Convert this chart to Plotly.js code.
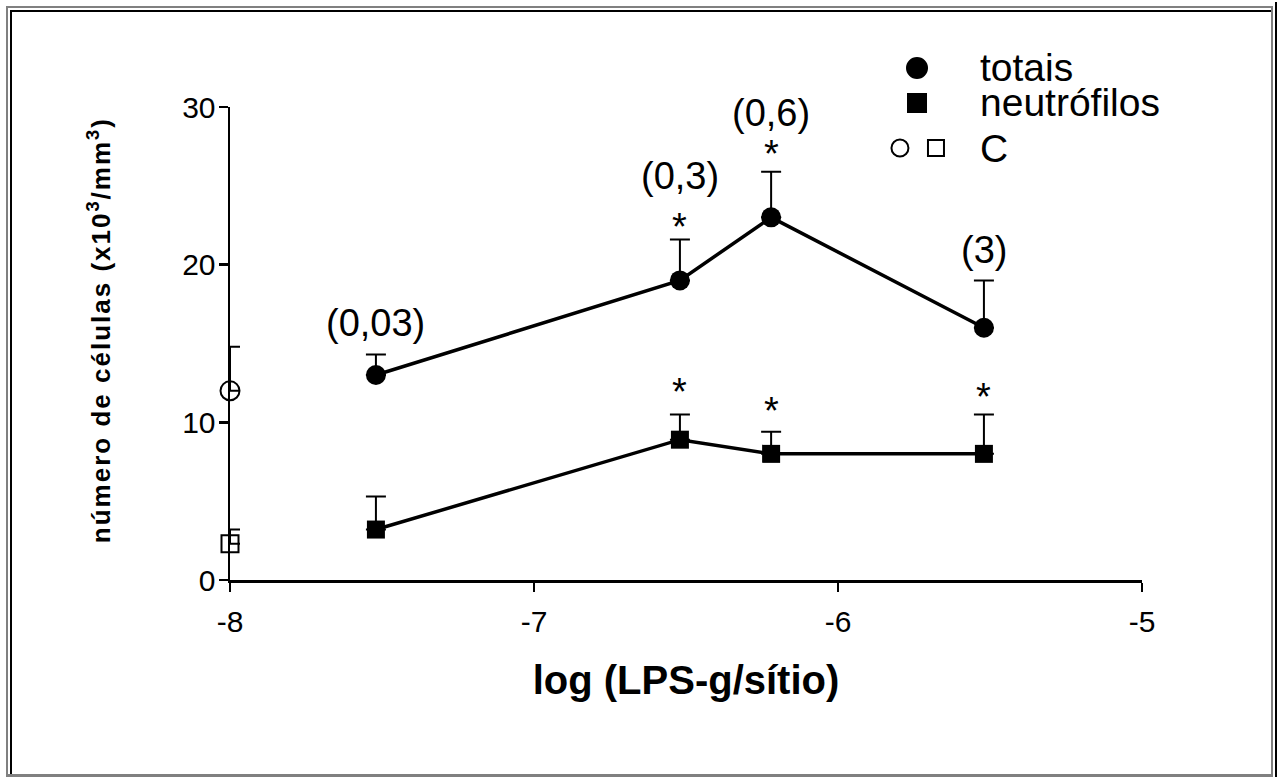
<!DOCTYPE html>
<html><head><meta charset="utf-8">
<script src="https://cdn.plot.ly/plotly-3.0.1.min.js"></script>
<style>
html,body{margin:0;padding:0;background:#fff;}
#wrap{position:relative;width:1278px;height:777px;overflow:hidden;}
#chart{position:absolute;left:0;top:0;width:1278px;height:777px;}
.fr{position:absolute;pointer-events:none;}
</style></head>
<body>
<div id="wrap">
<div id="chart"></div>
<div class="fr" style="left:6px;top:6px;width:1267px;height:2px;background:#808080"></div>
<div class="fr" style="left:6px;top:6px;width:2px;height:771px;background:#808080"></div>
<div class="fr" style="left:10px;top:10px;width:1261px;height:2px;background:#000"></div>
<div class="fr" style="left:10px;top:10px;width:2px;height:767px;background:#000"></div>
<div class="fr" style="left:1271px;top:6px;width:2px;height:771px;background:#808080"></div>
<div class="fr" style="left:1275px;top:2px;width:2px;height:775px;background:#000"></div>
<div class="fr" style="left:6px;top:774px;width:1267px;height:3px;background:#808080"></div>
</div>
<script>
// ---- data ----
const logDose = [-7.52, -6.52, -6.22, -5.52];
const doseLabels = ["(0,03)", "(0,3)", "(0,6)", "(3)"];
const totais = [13.0, 19.0, 23.0, 16.0];
const totaisErr = [1.3, 2.6, 2.9, 3.0];
const neutrofilos = [3.2, 8.9, 8.0, 8.0];
const neutrofilosErr = [2.1, 1.6, 1.4, 2.5];
const controlX = [-8];
const controlTotais = [12.0];
const controlTotaisErr = [2.8];
const controlNeutro = [2.3];
const controlNeutroErr = [0.9];
const sigTotais = ["", "*", "*", ""];
const sigNeutro = ["", "*", "*", "*"];
const xTicks = [-8, -7, -6, -5];
const yTicks = [0, 10, 20, 30];
const legendNames = ["totais", "neutrófilos", "C"];
const xTitle = "log (LPS-g/sítio)";
const yTitle = "número de células (x10<sup>3</sup>/mm<sup>3</sup>)";

// ---- layout constants (positions / styles) ----
const labelY = [16.3, 25.6, 29.6, 20.9];
const sigTotaisY = [0, 22.4, 27.0, 0];
const sigNeutroY = [0, 11.9, 10.7, 11.6];
const FONT = "Liberation Sans, Arial, sans-serif";
const legendTextX = 0.82;
const legendRowY = [1.0825, 1.0085, 0.9133];
const legendSymbols = [
  {type: "circle", x: 0.7533, y: 1.0825, r: 10, fill: "#000"},
  {type: "rect", x: 0.7533, y: 1.0085, r: 9, fill: "#000"},
  {type: "circle", x: 0.7346, y: 0.9133, r: 8.5, fill: "rgba(0,0,0,0)"},
  {type: "rect", x: 0.7741, y: 0.9133, r: 8, fill: "rgba(0,0,0,0)"}
];

const errStyle = {type: "data", symmetric: false, color: "#000", thickness: 2, width: 10};

const traces = [
  {x: logDose, y: totais, mode: "lines+markers", cliponaxis: false,
   line: {color: "#000", width: 3.5},
   marker: {symbol: "circle", size: 20, color: "#000"},
   error_y: Object.assign({array: totaisErr, arrayminus: totais.map(() => 0)}, errStyle)},
  {x: logDose, y: neutrofilos, mode: "lines+markers", cliponaxis: false,
   line: {color: "#000", width: 3.5},
   marker: {symbol: "square", size: 18, color: "#000"},
   error_y: Object.assign({array: neutrofilosErr, arrayminus: neutrofilos.map(() => 0)}, errStyle)},
  {x: controlX, y: controlTotais, mode: "markers", cliponaxis: false,
   marker: {symbol: "circle-open", size: 19, color: "#000", line: {width: 2}},
   error_y: Object.assign({array: controlTotaisErr, arrayminus: [0]}, errStyle)},
  {x: controlX, y: controlNeutro, mode: "markers", cliponaxis: false,
   marker: {symbol: "square-open", size: 17, color: "#000", line: {width: 2}},
   error_y: Object.assign({array: controlNeutroErr, arrayminus: [0]}, errStyle)}
];

const shapes = legendSymbols.map(s => ({
  type: s.type, xref: "paper", yref: "paper", xsizemode: "pixel", ysizemode: "pixel",
  xanchor: s.x, yanchor: s.y, x0: -s.r, x1: s.r, y0: -s.r, y1: s.r,
  fillcolor: s.fill, line: {color: "#000", width: 2}
}));

const annotations = [];
doseLabels.forEach((t, i) => annotations.push({x: logDose[i], y: labelY[i], xref: "x", yref: "y",
  text: t, showarrow: false, font: {family: FONT, size: 38, color: "#000"}}));
sigTotais.forEach((t, i) => { if (t) annotations.push({x: logDose[i], y: sigTotaisY[i], xref: "x", yref: "y",
  text: t, showarrow: false, font: {family: FONT, size: 38, color: "#000"}}); });
sigNeutro.forEach((t, i) => { if (t) annotations.push({x: logDose[i], y: sigNeutroY[i], xref: "x", yref: "y",
  text: t, showarrow: false, font: {family: FONT, size: 38, color: "#000"}}); });
legendNames.forEach((t, i) => annotations.push({x: legendTextX, y: legendRowY[i], xref: "paper", yref: "paper",
  xanchor: "left", yanchor: "middle", text: t, showarrow: false,
  font: {family: FONT, size: 39, color: "#000"}}));
// y-axis title as a rotated annotation (sits slightly above the axis centre, as in the reference)
annotations.push({x: -0.1435, y: 0.5285, xref: "paper", yref: "paper", textangle: -90,
  xanchor: "center", yanchor: "middle", showarrow: false,
  text: "<b>" + yTitle + "</b>", font: {family: FONT, size: 26, color: "#000"}});

const layout = {
  width: 1278, height: 777,
  margin: {l: 230, r: 136, t: 107, b: 197},
  paper_bgcolor: "#fff", plot_bgcolor: "#fff",
  showlegend: false,
  font: {family: FONT, color: "#000"},
  xaxis: {range: [-8, -5], tickvals: xTicks, ticktext: xTicks.map(String),
    showgrid: false, zeroline: false, showline: true, linecolor: "#000", linewidth: 2.5,
    ticks: "outside", ticklen: 9, tickwidth: 2.5, tickcolor: "#000", ticklabelstandoff: 4,
    tickfont: {family: FONT, size: 30, color: "#000"},
    title: {text: "<b>" + xTitle + "</b>", standoff: 30, font: {family: FONT, size: 40, color: "#000"}}},
  yaxis: {range: [0, 30], tickvals: yTicks, ticktext: yTicks.map(String),
    showgrid: false, zeroline: false, showline: true, linecolor: "#000", linewidth: 2.5,
    ticks: "outside", ticklen: 9, tickwidth: 2.5, tickcolor: "#000", ticklabelstandoff: -3,
    tickfont: {family: FONT, size: 30, color: "#000"}},
  shapes: shapes,
  annotations: annotations
};

Plotly.newPlot("chart", traces, layout, {displayModeBar: false, staticPlot: true}).then(gd => {
  gd.querySelectorAll(".annotation-text").forEach(el => {
    if (el.textContent.indexOf("número") === 0) el.style.letterSpacing = "2px";
  });
});
</script>
</body></html>
